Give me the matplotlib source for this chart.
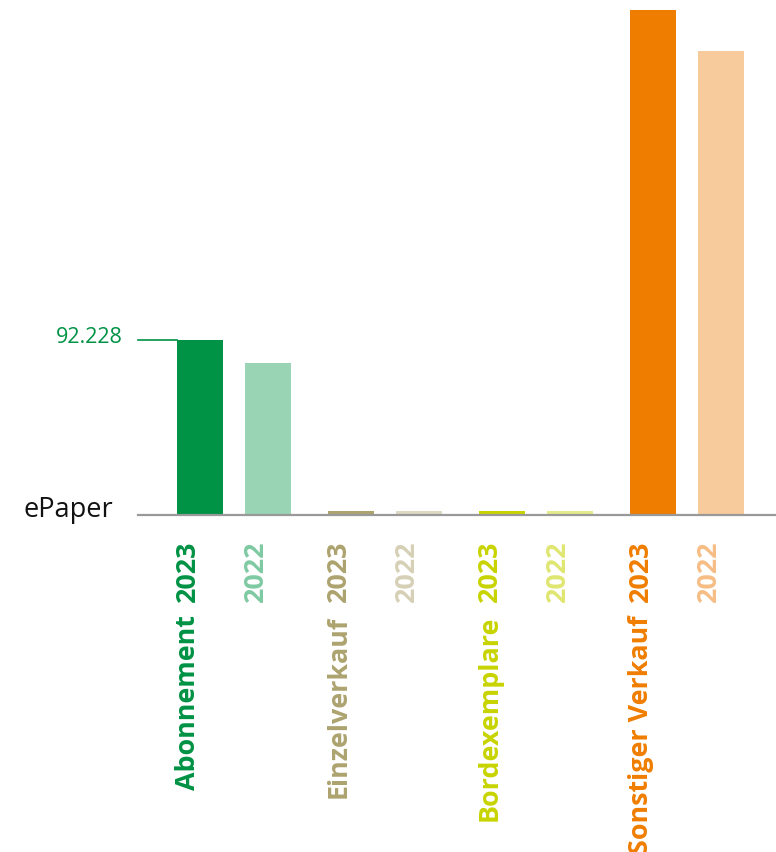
import numpy as np
from matplotlib import pyplot as plt
from matplotlib import transforms

plt.rcParams['font.family'] = ['Open Sans', 'DejaVu Sans']

categories = ['Abonnement', 'Einzelverkauf', 'Bordexemplare', 'Sonstiger Verkauf']
years = ['2023', '2022']
values_2023 = [92228, 1900, 1900, 266700]
values_2022 = [80100, 1700, 1700, 244800]
colors_2023 = ['#009245', '#ada36f', '#c8d400', '#ef7d00']
colors_2022 = ['#99d4b4', '#ddd9c3', '#e4eb8c', '#f7cb9b']
text_2022 = ['#7fcaa2', '#d6d1b6', '#dfe670', '#f6bd85']
row_label = 'ePaper'

fig = plt.figure(figsize=(7.76, 8.53), dpi=100)
ax = fig.add_axes([138/776, 1-515.5/853, 1-138/776, 515.5/853])

x = np.arange(len(categories))
off = 0.225
w = 0.305
ax.bar(x-off, values_2023, w, color=colors_2023, zorder=2)
ax.bar(x+off, values_2022, w, color=colors_2022, zorder=2)

x0 = -0.636
ax.set_xlim(x0, 3.589)
ax.set_ylim(0, 272450)
for s in ['top', 'right', 'left']:
    ax.spines[s].set_visible(False)
ax.spines['bottom'].set_color('#999999')
ax.spines['bottom'].set_linewidth(1.6)
ax.set_xticks([])
ax.set_yticks([])

# value marker for the first bar
v = values_2023[0]
ax.plot([x0, x[0]-off-w/2], [v, v], color=colors_2023[0], lw=1.2, clip_on=False, zorder=1)
ax.annotate(f'{v:,}'.replace(',', '.'), xy=(x0, v), xytext=(-15, -2), textcoords='offset pixels',
            ha='right', va='baseline', color=colors_2023[0], fontsize=15.5)
ax.annotate(row_label, xy=(x0, 0), xytext=(-25, -1), textcoords='offset pixels',
            ha='right', va='baseline', color='#111111', fontsize=19.5)

# rotated labels under the bars
tr = ax.get_xaxis_transform()
lab = dict(rotation=90, ha='left', va='top', fontsize=19.4, fontweight='bold')
for i, cat in enumerate(categories):
    left23 = x[i]-off-w/2
    left22 = x[i]+off-w/2
    ax.text(left23, 0, years[0], transform=transforms.offset_copy(tr, fig=fig, x=-2, y=-25, units='dots'),
            color=colors_2023[i], **lab)
    ax.text(left23, 0, cat, transform=transforms.offset_copy(tr, fig=fig, x=-2, y=-100, units='dots'),
            color=colors_2023[i], **lab)
    ax.text(left22, 0, years[1], transform=transforms.offset_copy(tr, fig=fig, x=-2, y=-25, units='dots'),
            color=text_2022[i], **lab)

fig.savefig('out.png', dpi=100)
